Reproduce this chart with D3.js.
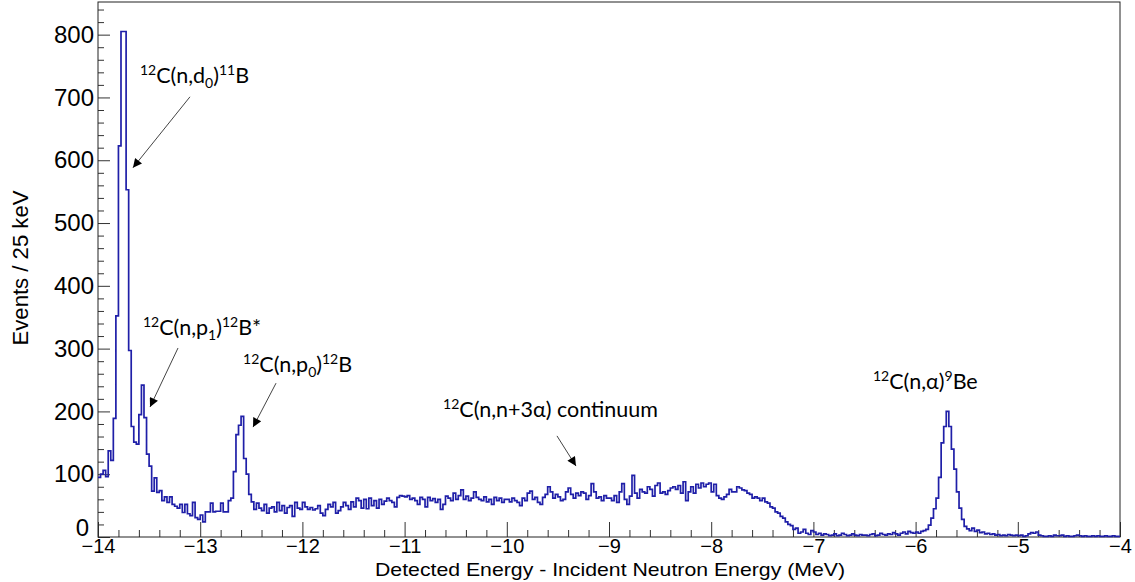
<!DOCTYPE html>
<html>
<head>
<meta charset="utf-8">
<script src="https://cdn.jsdelivr.net/npm/d3@7"></script>
<style>
    body { margin: 0; background: #fff; }
    svg { display: block; }
</style>
</head>
<body>
<div id="chart"></div>
<script>
'use strict';

// histogram: 25 keV bins from -14 MeV
let binStart = -14;
let binWidth = 0.025;

let counts = [
    95, 100, 106, 96, 137, 122, 189, 352, 623, 805, 805, 553, 297, 176, 151, 148, 195, 242, 190, 132,
    113, 73, 94, 71, 74, 58, 64, 55, 64, 52, 49, 46, 52, 39, 52, 37, 34, 55, 31, 28,
    35, 24, 40, 40, 54, 40, 41, 41, 54, 40, 40, 58, 62, 104, 163, 178, 192, 125, 100, 68,
    56, 44, 54, 46, 42, 52, 38, 46, 48, 40, 55, 42, 50, 38, 47, 50, 33, 55, 46, 44,
    55, 48, 44, 47, 43, 45, 50, 38, 34, 44, 52, 48, 55, 38, 42, 48, 55, 50, 44, 56,
    48, 62, 58, 46, 60, 45, 62, 50, 58, 46, 60, 52, 57, 62, 58, 55, 48, 63, 66, 65,
    64, 66, 60, 62, 58, 52, 63, 60, 48, 63, 58, 61, 55, 60, 44, 52, 65, 62, 58, 70,
    60, 66, 75, 60, 65, 58, 62, 72, 63, 60, 58, 64, 56, 60, 52, 63, 58, 62, 55, 60,
    60, 56, 62, 58, 55, 50, 62, 58, 70, 73, 60, 63, 55, 52, 63, 68, 80, 72, 62, 68,
    64, 58, 60, 72, 78, 68, 62, 70, 66, 72, 70, 60, 66, 85, 72, 62, 64, 58, 66, 62,
    62, 58, 66, 55, 72, 85, 60, 52, 65, 98, 70, 62, 76, 72, 70, 80, 76, 65, 82, 86,
    70, 72, 68, 74, 78, 80, 76, 82, 70, 88, 58, 72, 80, 70, 84, 78, 86, 80, 84, 86,
    72, 84, 66, 62, 60, 64, 68, 76, 72, 72, 80, 78, 75, 74, 70, 68, 62, 64, 62, 58,
    62, 56, 54, 48, 46, 40, 38, 33, 30, 24, 20, 18, 12, 14, 6, 8, 12, 6, 4, 10,
    8, 4, 6, 3, 5, 4, 2, 3, 5, 2, 3, 6, 4, 2, 3, 5, 3, 2, 4, 3,
    3, 2, 4, 5, 2, 3, 6, 4, 3, 5, 4, 7, 5, 3, 6, 8, 5, 9, 7, 6,
    8, 6, 9, 10, 12, 19, 30, 45, 62, 95, 150, 176, 200, 176, 140, 108, 72, 46, 28, 17,
    13, 10, 14, 9, 11, 7, 8, 5, 6, 4, 5, 3, 4, 2, 3, 2, 4, 3, 2, 3,
    2, 3, 1, 2, 5, 7, 6, 8, 3, 2, 1, 1, 2, 1, 3, 2, 2, 3, 1, 2,
    1, 1, 2, 3, 2, 1, 2, 1, 1, 2, 1, 2, 1, 1, 2, 1, 1, 2, 1, 1
];

let xMajorTicks = [-14, -13, -12, -11, -10, -9, -8, -7, -6, -5, -4];
let yMajorTicks = [0, 100, 200, 300, 400, 500, 600, 700, 800];

// annotations (positions in data units)
let annTexts = [
    '^{12}C(n,d_{0})^{11}B',
    '^{12}C(n,p_{1})^{12}B*',
    '^{12}C(n,p_{0})^{12}B',
    '^{12}C(n,n+3\u03b1) continuum',
    '^{12}C(n,\u03b1)^{9}Be'
];
let annX = [-13.589, -13.560, -12.581, -10.624, -6.417];
let annY = [723, 322, 263, 191, 236];

let arrowX1 = [-13.100, -13.217, -12.258, -9.509];
let arrowY1 = [701, 301, 245, 161];
let arrowX2 = [-13.658, -13.491, -12.483, -9.323];
let arrowY2 = [588, 207, 175, 113];

let width = 1135,
    height = 582,
    margin = {
        top: 2,
        right: 15,
        bottom: 45,
        left: 98
    };

let svg = d3.select('#chart')
    .append('svg')
    .attr('width', width)
    .attr('height', height);

let x = d3.scaleLinear().domain([-14, -4]).range([margin.left, width - margin.right]);
let y = d3.scaleLinear().domain([0, 852]).range([height - margin.bottom, margin.top]);

let axisFont = 'Liberation Sans, Arial, Helvetica, sans-serif';
let annFont = 'Lato, Noto Sans, sans-serif';

// minor ticks
let xMinor = d3.range(-14, -4.0001, 0.2).filter(function(v) {
    return Math.abs(v - Math.round(v)) > 0.01;
});
let yMinor = d3.range(0, 841, 20).filter(function(v) {
    return v % 100 !== 0;
});

svg.append('g')
    .attr('transform', 'translate(0,' + y(0) + ')')
    .call(d3.axisBottom(x).tickValues(xMinor).tickSize(-7).tickFormat(''))
    .call(function(g) { g.select('.domain').remove(); });

let gX = svg.append('g')
    .attr('class', 'axis x-axis')
    .attr('transform', 'translate(0,' + y(0) + ')')
    .call(d3.axisBottom(x).tickValues(xMajorTicks).tickSize(-15).tickPadding(2)
        .tickFormat(function(d) { return d < 0 ? '\u2212' + Math.abs(d) : d; }));
gX.select('.domain').remove();
gX.selectAll('text')
    .attr('font-family', axisFont)
    .attr('font-size', 20)
    .attr('fill', '#000');

svg.append('g')
    .attr('transform', 'translate(' + x(-14) + ',0)')
    .call(d3.axisLeft(y).tickValues(yMinor).tickSize(-6).tickFormat(''))
    .call(function(g) { g.select('.domain').remove(); });

let gY = svg.append('g')
    .attr('class', 'axis y-axis')
    .attr('transform', 'translate(' + x(-14) + ',0)')
    .call(d3.axisLeft(y).tickValues(yMajorTicks).tickSize(-12).tickPadding(4));
gY.select('.domain').remove();
gY.selectAll('text')
    .attr('font-family', axisFont)
    .attr('font-size', 24)
    .attr('fill', '#000');
// the zero label sits a little higher, clear of the x labels
gY.selectAll('.tick')
    .filter(function(d) { return d === 0; })
    .select('text')
    .attr('x', -9)
    .attr('dy', '-0.08em');

svg.selectAll('.tick line').attr('stroke', '#333');

// frame
svg.append('rect')
    .attr('x', x(-14))
    .attr('y', y(852))
    .attr('width', x(-4) - x(-14))
    .attr('height', y(0) - y(852))
    .attr('fill', 'none')
    .attr('stroke', '#222')
    .attr('stroke-width', 1);

// histogram outline
let bins = counts.map(function(c, i) {
    return { x0: binStart + i * binWidth, c: c };
});
bins.push({ x0: binStart + counts.length * binWidth, c: counts[counts.length - 1] });

let line = d3.line()
    .x(function(d) { return x(d.x0); })
    .y(function(d) { return y(d.c); })
    .curve(d3.curveStepAfter);

svg.append('path')
    .datum(bins)
    .attr('d', line)
    .attr('fill', 'none')
    .attr('stroke', '#1f1fa8')
    .attr('stroke-width', 1.7);

// axis titles
svg.append('text')
    .attr('x', 610)
    .attr('y', 576)
    .attr('text-anchor', 'middle')
    .attr('font-family', axisFont)
    .attr('font-size', 19)
    .attr('textLength', 470)
    .attr('lengthAdjust', 'spacingAndGlyphs')
    .text('Detected Energy - Incident Neutron Energy (MeV)');

svg.append('text')
    .attr('transform', 'translate(28,268) rotate(-90)')
    .attr('text-anchor', 'middle')
    .attr('font-family', axisFont)
    .attr('font-size', 22)
    .attr('textLength', 155)
    .attr('lengthAdjust', 'spacingAndGlyphs')
    .text('Events / 25 keV');

// arrows
svg.append('defs').append('marker')
    .attr('id', 'head')
    .attr('viewBox', '0 0 10 10')
    .attr('refX', 10)
    .attr('refY', 5)
    .attr('markerWidth', 11)
    .attr('markerHeight', 9)
    .attr('markerUnits', 'userSpaceOnUse')
    .attr('orient', 'auto')
    .append('path')
    .attr('d', 'M0,0L10,5L0,10Z')
    .attr('fill', '#000');

svg.selectAll('.arrow')
    .data(arrowX1)
    .enter().append('line')
    .attr('class', 'arrow')
    .attr('x1', function(d) { return x(d); })
    .attr('y1', function(d, i) { return y(arrowY1[i]); })
    .attr('x2', function(d, i) { return x(arrowX2[i]); })
    .attr('y2', function(d, i) { return y(arrowY2[i]); })
    .attr('stroke', '#444')
    .attr('stroke-width', 1)
    .attr('marker-end', 'url(#head)');

// labels with ^{sup} and _{sub}
function addRich(t, str) {
    let re = /([\^_])\{([^}]*)\}|([^\^_]+)/g;
    let m, shift = 0;
    while ((m = re.exec(str)) !== null) {
        let ts = t.append('tspan');
        let want = 0;
        if (m[1] === '^') {
            want = -8;
            ts.attr('font-size', 14).text(m[2]);
        } else if (m[1] === '_') {
            want = 5;
            ts.attr('font-size', 14).text(m[2]);
        } else {
            ts.text(m[3]);
        }
        ts.attr('dy', want - shift);
        shift = want;
    }
}

annTexts.forEach(function(s, i) {
    let t = svg.append('text')
        .attr('x', x(annX[i]))
        .attr('y', y(annY[i]))
        .attr('font-family', annFont)
        .attr('font-size', 21.5)
        .attr('fill', '#000');
    addRich(t, s);
});
</script>
</body>
</html>
